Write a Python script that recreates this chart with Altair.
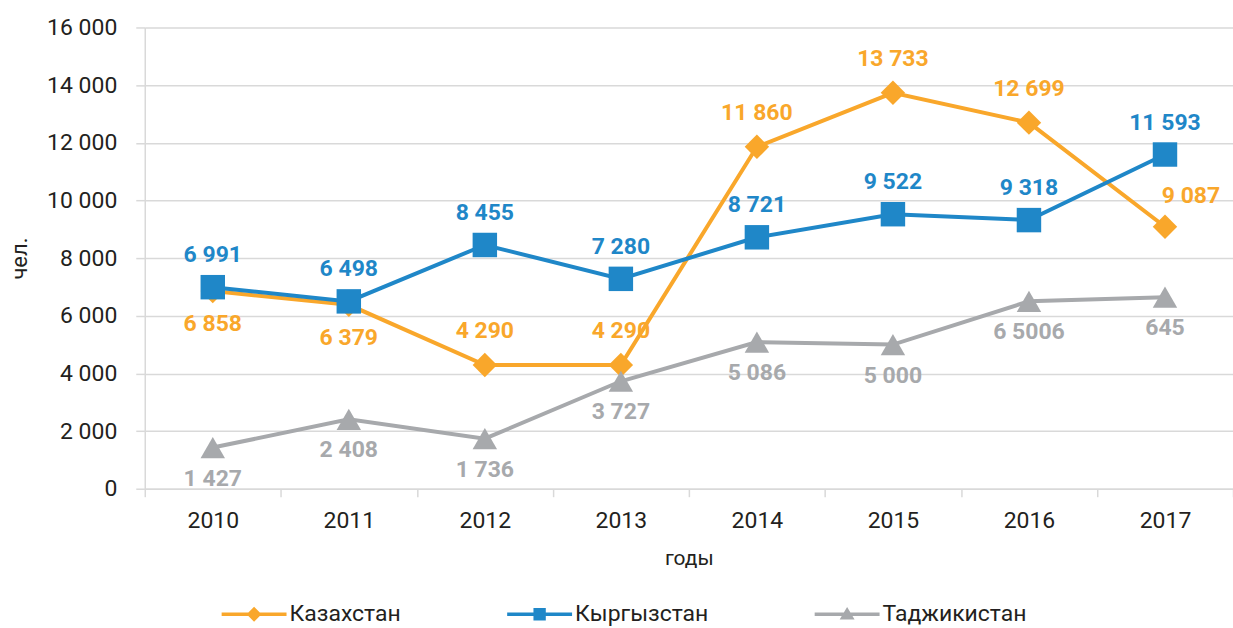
import altair as alt
import pandas as pd

years = ["2010", "2011", "2012", "2013", "2014", "2015", "2016", "2017"]
countries = ["Казахстан", "Кыргызстан", "Таджикистан"]
kaz = [6858, 6379, 4290, 4290, 11860, 13733, 12699, 9087]
kgz = [6991, 6498, 8455, 7280, 8721, 9522, 9318, 11593]
tjk = [1427, 2408, 1736, 3727, 5086, 5000, 6500, 6645]
tjk_labels = ["1 427", "2 408", "1 736", "3 727", "5 086", "5 000", "6 5006", "645"]
colors = ["#F9A72B", "#1F87C8", "#A7A9AC"]
y_ticks = [0, 2000, 4000, 6000, 8000, 10000, 12000, 14000, 16000]

FONT = "Roboto"
DARK = "#231f20"
GRID = "#d9d9d9"


def fmt(v):
    return f"{v:,}".replace(",", " ")


series = [
    (countries[0], kaz, [fmt(v) for v in kaz]),
    (countries[1], kgz, [fmt(v) for v in kgz]),
    (countries[2], tjk, tjk_labels),
]
rows = []
for k, (c, vals, labs) in enumerate(series):
    for y, v, lab in zip(years, vals, labs):
        rows.append({"year": y, "country": c, "value": v, "label": lab, "k": k})
df = pd.DataFrame(rows)

x_enc = alt.X(
    "year:N",
    sort=years,
    scale=alt.Scale(type="band", domain=years, paddingInner=0, paddingOuter=0),
    axis=alt.Axis(
        title="годы", grid=False, domain=True, domainColor=GRID, domainWidth=1.5,
        ticks=True, tickBand="extent", tickSize=8, tickColor=GRID, tickWidth=1.5,
        labelFont=FONT, labelFontSize=23, labelColor=DARK, labelPadding=13, labelAngle=0,
        titleFont=FONT, titleFontSize=21, titleFontWeight="normal", titleColor=DARK,
        titlePadding=15,
    ),
)
y_enc = alt.Y(
    "value:Q",
    scale=alt.Scale(domain=[0, 16000], nice=False),
    axis=alt.Axis(
        title="чел.", values=y_ticks, grid=True, gridColor=GRID, gridWidth=1.5,
        domain=True, domainColor=GRID, domainWidth=1.5,
        ticks=True, tickSize=9, tickColor=GRID, tickWidth=1.5,
        labelFont=FONT, labelFontSize=23, labelColor=DARK, labelPadding=19,
        labelExpr="replace(format(datum.value, ','), ',', ' ')",
        titleFont=FONT, titleFontSize=22, titleFontWeight="normal", titleColor=DARK,
        titlePadding=15,
    ),
)
color_scale = alt.Scale(domain=countries, range=colors)
color_enc = alt.Color("country:N", scale=color_scale, legend=None)

base = alt.Chart(df)

lines = base.mark_line(strokeWidth=4).encode(x=x_enc, y=y_enc, color=color_enc, order="k:Q")

points = base.mark_point(filled=True, opacity=1, size=600).encode(
    x=x_enc, y=y_enc, color=color_enc,
    shape=alt.Shape("country:N", scale=alt.Scale(domain=countries,
                                                  range=["diamond", "square", "triangle-up"]),
                    legend=None),
)


def labels(country, yrs, dx, dy):
    return base.transform_filter(
        alt.FieldEqualPredicate(field="country", equal=country)
    ).transform_filter(
        alt.FieldOneOfPredicate(field="year", oneOf=yrs)
    ).mark_text(font=FONT, fontSize=23, fontWeight="bold", dx=dx, dy=dy,
                baseline="middle", align="center").encode(
        x=x_enc, y=y_enc, color=color_enc, text="label:N")


texts = [
    labels(countries[0], years[0:2], 0, 33),
    labels(countries[0], years[2:7], 0, -34),
    labels(countries[0], years[7:8], 26, -31),
    labels(countries[1], years, 0, -32),
    labels(countries[2], years, 0, 31),
]

legend_paths = [
    "M-1,-0.055L1,-0.055L1,0.055L-1,0.055Z M0,-0.23L0.23,0L0,0.23L-0.23,0Z",
    "M-1,-0.055L1,-0.055L1,0.055L-1,0.055Z M-0.19,-0.19L0.19,-0.19L0.19,0.19L-0.19,0.19Z",
    "M-1,-0.055L1,-0.055L1,0.055L-1,0.055Z M0,-0.22L0.23,0.16L-0.23,0.16Z",
]
leg = alt.Legend(
    title=None, orient="none", legendX=77, legendY=555, direction="horizontal",
    columns=3, symbolSize=4225, symbolStrokeWidth=0, symbolOpacity=1,
    labelFont=FONT, labelFontSize=23, labelColor=DARK, labelOffset=3,
    columnPadding=106, padding=0,
)
legend_layer = base.transform_filter("false").mark_point(filled=True).encode(
    x=x_enc, y=y_enc,
    color=alt.Color("country:N", scale=color_scale, legend=leg),
    shape=alt.Shape("country:N", scale=alt.Scale(domain=countries, range=legend_paths),
                    legend=leg),
)

chart = alt.layer(lines, points, *texts, legend_layer).resolve_scale(
    color="independent", shape="independent"
).properties(
    width=1090, height=462,
    padding={"left": 145, "top": 27, "right": 0, "bottom": 139},
    autosize=alt.AutoSizeParams(type="none"),
    background="white",
).configure_view(stroke=None)

chart.save("out.html", embed_options={"renderer": "svg", "actions": False})
